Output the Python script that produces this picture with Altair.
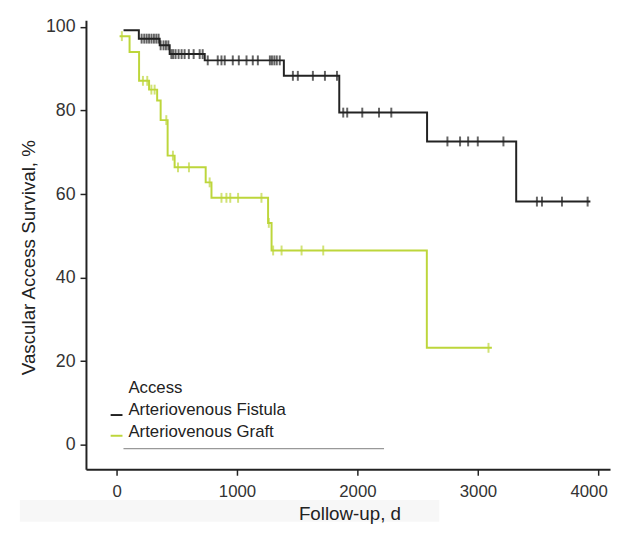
import altair as alt
import pandas as pd

series = ["Arteriovenous Fistula", "Arteriovenous Graft"]
colors = ["#222222", "#bdd63b"]

# Fistula: event times (days) and survival (%) after each step
avf_t = [58, 185, 358, 441, 732, 1389, 1849, 2578, 3318]
avf_s = [99.2, 97.2, 95.6, 93.5, 92.0, 88.3, 79.5, 72.6, 58.2]
avf_end = 3934
avf_cens = [208, 230, 250, 270, 290, 310, 330, 349,
            366, 390, 410, 430,
            455, 470, 490, 515, 540, 565, 600, 640, 690, 715,
            757, 840, 871, 898, 965, 1015, 1079, 1131, 1173, 1273, 1290, 1310, 1330, 1355,
            1464, 1505, 1630, 1730, 1830,
            1882, 1915, 2040, 2179, 2281,
            2747, 2852, 2919, 2999, 3212,
            3490, 3532, 3698, 3911]

# Graft
avg_t = [25, 108, 187, 270, 337, 366, 424, 482, 740, 788, 1258, 1287, 2576]
avg_s = [97.8, 94.0, 87.1, 85.0, 82.4, 77.7, 69.2, 66.4, 62.8, 59.1, 53.1, 46.5, 23.2]
avg_end = 3116
avg_cens = [44, 219, 255, 289, 316, 413, 468, 510, 601, 773,
            871, 912, 944, 1009, 1203, 1264, 1300, 1370, 1536, 1716, 3088]

x_ticks = [0, 1000, 2000, 3000, 4000]
y_ticks = [0, 20, 40, 60, 80, 100]


def step_rows(name, ts, ss, end):
    rows = [{"series": name, "t": t, "s": s, "o": i} for i, (t, s) in enumerate(zip(ts, ss))]
    rows.append({"series": name, "t": end, "s": ss[-1], "o": len(ts)})
    return rows


def cens_rows(name, ts, ss, cens):
    rows = []
    for c in cens:
        val = ss[0]
        for t, s in zip(ts, ss):
            if t <= c:
                val = s
        rows.append({"series": name, "t": c, "s": val})
    return rows


lines = pd.DataFrame(step_rows(series[0], avf_t, avf_s, avf_end) +
                     step_rows(series[1], avg_t, avg_s, avg_end))
cens = pd.DataFrame(cens_rows(series[0], avf_t, avf_s, avf_cens) +
                    cens_rows(series[1], avg_t, avg_s, avg_cens))

xs = alt.Scale(domain=[-254, 4097], nice=False, zero=False)
ys = alt.Scale(domain=[-5.88, 101.6], nice=False, zero=False)
cs = alt.Scale(domain=series, range=colors)

x_enc = alt.X("t:Q", scale=xs, axis=alt.Axis(
    values=x_ticks, format="d", title="Follow-up, d", titleX=267, titleY=51,
    titleBaseline="alphabetic", titleAnchor="middle", titleAlign="center",
    labelPadding=9, labelFontSize=17, labelFlush=15, labelFlushOffset=9, zindex=1))
y_enc = alt.Y("s:Q", scale=ys, axis=alt.Axis(
    values=y_ticks, title="Vascular Access Survival, %", titleX=-58, titleY=240,
    titleAngle=-90, titleAlign="center", titleBaseline="middle", labelPadding=5,
    labelFontSize=18))

line_layer = alt.Chart(lines).mark_line(interpolate="step-after", strokeWidth=2).encode(
    x=x_enc, y=y_enc, order="o:Q",
    color=alt.Color("series:N", scale=cs, legend=None),
    detail="series:N")

cens_layer = alt.Chart(cens).mark_tick(orient="vertical", size=10, thickness=2).encode(
    x=alt.X("t:Q", scale=xs), y=alt.Y("s:Q", scale=ys),
    color=alt.Color("series:N", scale=cs, legend=None))

one = pd.DataFrame({"a": [0]})
band = alt.Chart(one).mark_rect(color="#f7f7f7").encode(
    x=alt.value(-67), x2=alt.value(358), y=alt.value(486), y2=alt.value(508))

leg = [alt.Chart(one).mark_text(text="Access", align="left", baseline="middle",
                                font="Liberation Sans", fontSize=17, color="#222").encode(
    x=alt.value(43), y=alt.value(373))]
for i, (name, col) in enumerate(zip(series, colors)):
    leg.append(alt.Chart(one).mark_text(text=name, align="left", baseline="middle",
                                        font="Liberation Sans", fontSize=17, color="#222").encode(
        x=alt.value(43), y=alt.value(395 + 22 * i)))
    leg.append(alt.Chart(one).mark_rule(color=col, strokeWidth=2).encode(
        x=alt.value(25), x2=alt.value(37), y=alt.value(400 + 21 * i)))
leg.append(alt.Chart(one).mark_rule(color="#999999", strokeWidth=1.2).encode(
    x=alt.value(38), x2=alt.value(302), y=alt.value(434)))

chart = alt.layer(band, line_layer, cens_layer, *leg).properties(
    width=531, height=455,
    autosize=alt.AutoSizeParams(type="none"),
    padding={"left": 79, "top": 9, "right": 2, "bottom": 54},
).configure_view(stroke=None).configure_axis(
    grid=False, domainColor="#222", domainWidth=2, tickColor="#222", tickWidth=1.5,
    tickSize=6, labelFont="Liberation Sans", labelColor="#333",
    titleFont="Liberation Sans", titleFontSize=19, titleFontWeight="normal",
    titleColor="#222")

chart.save("out.html", embed_options={"renderer": "svg", "actions": False})
